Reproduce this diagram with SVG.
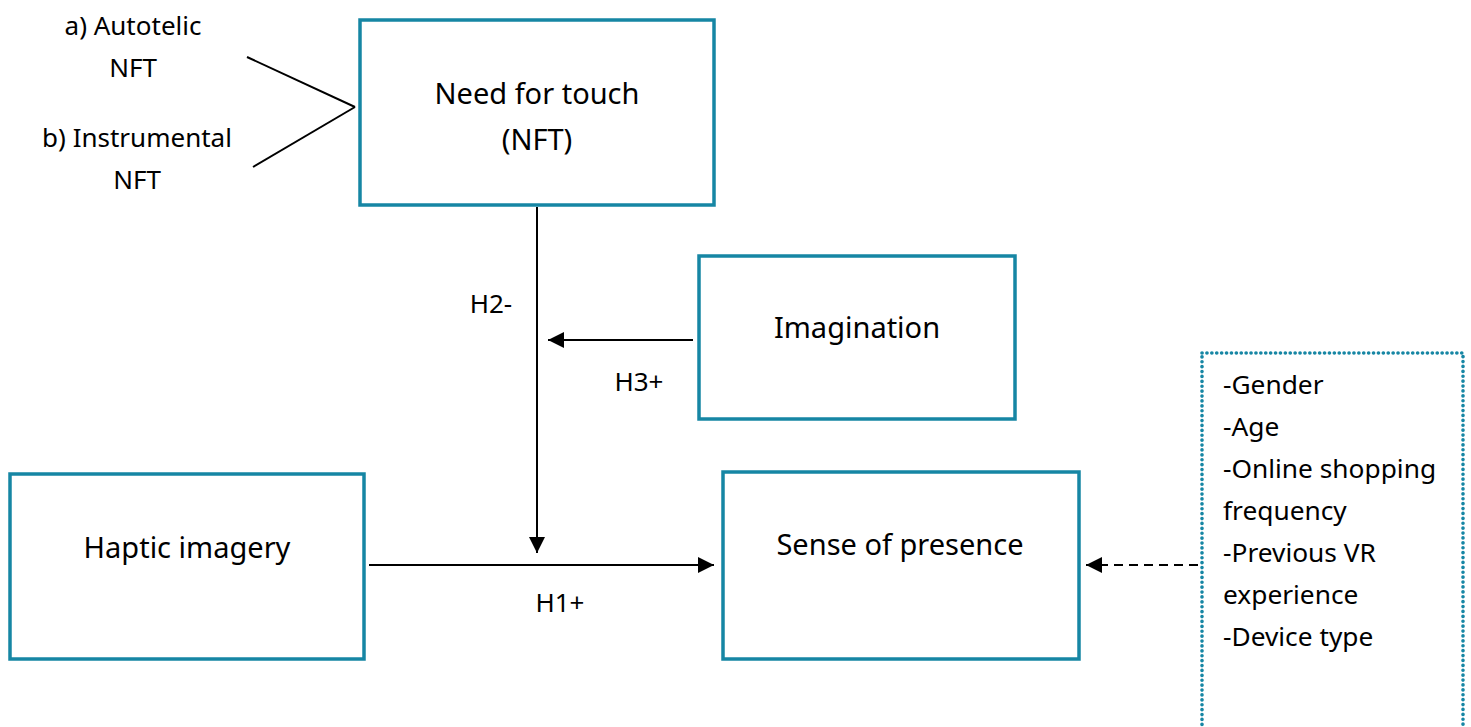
<svg xmlns="http://www.w3.org/2000/svg" width="1471" height="727" viewBox="0 0 1471 727">
<defs>
<style>
.box{fill:#fff;stroke:#1686a4;stroke-width:3.5}
.dot{fill:none;stroke:#1686a4;stroke-width:3.6;stroke-dasharray:0.1 4.8;stroke-linecap:round}
.ln{stroke:#000;stroke-width:2;fill:none}
text{font-family:"Noto Sans","Open Sans","Liberation Sans",sans-serif;fill:#000}
.t26{font-size:29px;text-anchor:middle}
.t22{font-size:26px}
.c{text-anchor:middle}
.t24{font-size:26.3px}
</style>
<marker id="ah" viewBox="0 0 10 10" refX="10" refY="5" markerWidth="16" markerHeight="16" markerUnits="userSpaceOnUse" orient="auto">
<path d="M0,0 L10,5 L0,10 Z" fill="#000"/>
</marker>
</defs>
<g id="connectors">
<line class="ln" x1="247" y1="57" x2="355" y2="107"/>
<line class="ln" x1="253" y1="167" x2="355" y2="107"/>
<line class="ln" x1="537" y1="207" x2="537" y2="553" marker-end="url(#ah)"/>
<line class="ln" x1="693" y1="340" x2="548" y2="340" marker-end="url(#ah)"/>
<line class="ln" x1="369" y1="565" x2="714" y2="565" marker-end="url(#ah)"/>
<line class="ln" x1="1198" y1="565" x2="1086" y2="565" stroke-dasharray="9 6" stroke-width="2.3" marker-end="url(#ah)"/>
<text class="t22 c" x="491" y="313">H2-</text>
<text class="t22 c" x="639" y="391">H3+</text>
<text class="t22 c" x="560" y="612">H1+</text>
</g>
<g id="labels-nft">
<text class="t22 c" x="133" y="35">a) Autotelic</text>
<text class="t22 c" x="133" y="77">NFT</text>
<text class="t22 c" x="137" y="147">b) Instrumental</text>
<text class="t22 c" x="137" y="189">NFT</text>
</g>
<g id="node-nft">
<rect class="box" x="360" y="20" width="354" height="185"/>
<text class="t26" x="537" y="104">Need for touch</text>
<text class="t26" x="537" y="150">(NFT)</text>
</g>
<g id="node-imagination">
<rect class="box" x="699" y="256" width="316" height="163"/>
<text class="t26" x="857" y="338">Imagination</text>
</g>
<g id="node-haptic">
<rect class="box" x="10" y="474" width="354" height="185"/>
<text class="t26" x="187" y="558">Haptic imagery</text>
</g>
<g id="node-presence">
<rect class="box" x="723" y="472" width="356" height="187"/>
<text class="t26" x="900" y="555">Sense of presence</text>
</g>
<g id="node-controls">
<rect class="dot" x="1202" y="353" width="261" height="400"/>
<text class="t24" x="1223" y="394">-Gender</text>
<text class="t24" x="1223" y="436">-Age</text>
<text class="t24" x="1223" y="478">-Online shopping</text>
<text class="t24" x="1223" y="520">frequency</text>
<text class="t24" x="1223" y="562">-Previous VR</text>
<text class="t24" x="1223" y="604">experience</text>
<text class="t24" x="1223" y="646">-Device type</text>
</g>
</svg>
